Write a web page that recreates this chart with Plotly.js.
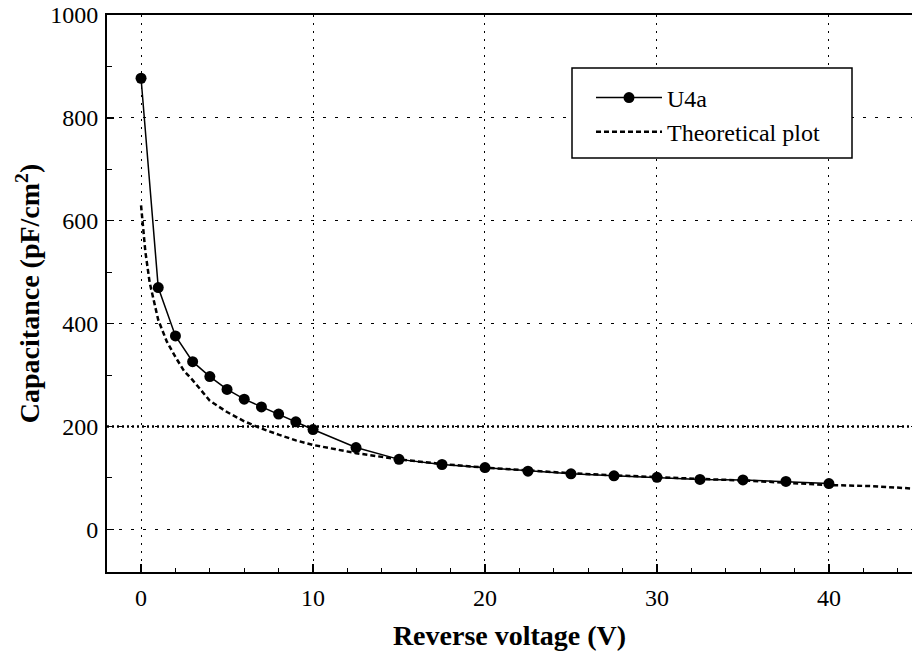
<!DOCTYPE html>
<html>
<head>
<meta charset="utf-8">
<script src="https://cdn.plot.ly/plotly-3.0.1.min.js"></script>
<style>html,body{margin:0;padding:0;background:#fff;}#chart{width:912px;height:659px;}</style>
</head>
<body>
<div id="chart"></div>
<script>
// Measured series U4a
const voltageU4a = [0, 1, 2, 3, 4, 5, 6, 7, 8, 9, 10, 12.5, 15, 17.5, 20, 22.5, 25, 27.5, 30, 32.5, 35, 37.5, 40];
const capU4a = [877, 470, 376, 326, 297, 272, 253, 238, 224, 209, 194, 159, 136, 126, 120, 113, 108, 104, 101, 97, 96, 93, 89];

// Theoretical curve
const voltageTheory = [0, 0.25, 0.5, 0.75, 1, 1.5, 2, 2.5, 3, 4, 5, 6, 7, 8, 9, 10, 12.5, 15, 17.5, 20, 22.5, 25, 27.5, 30, 32.5, 35, 37.5, 40, 42.5, 45];
const capTheory = [630, 540, 480, 440, 407, 365, 335, 308, 290, 250, 228, 210, 196, 184, 173, 164, 148, 136, 127, 120, 114, 109, 105, 101, 98, 95, 91, 86, 84, 79];

const seriesNames = ['U4a', 'Theoretical plot'];
const xTitle = 'Reverse voltage (V)';
const yTitle = 'Capacitance (pF/cm<sup>2</sup>)';
const xTicks = [0, 10, 20, 30, 40];
const yTicks = [0, 200, 400, 600, 800, 1000];
const refLevel = 200;

const serif = "'Liberation Serif', 'Times New Roman', serif";

const traces = [
  {
    x: voltageU4a, y: capU4a, name: seriesNames[0],
    type: 'scatter', mode: 'lines+markers',
    line: {color: '#000', width: 1.5},
    marker: {color: '#000', size: 11, symbol: 'circle'}
  },
  {
    x: voltageTheory, y: capTheory, name: seriesNames[1],
    type: 'scatter', mode: 'lines',
    line: {color: '#000', width: 2.5, dash: '5px,3px'}
  }
];

const layout = {
  width: 912, height: 659,
  margin: {l: 107, r: 0, t: 15, b: 87},
  paper_bgcolor: '#fff', plot_bgcolor: '#fff',
  showlegend: true,
  font: {family: serif, color: '#000', size: 24},
  xaxis: {
    range: [-1.98, 44.83],
    tickmode: 'array', tickvals: xTicks, ticktext: xTicks.map(String),
    ticks: 'inside', ticklen: 8, tickwidth: 1.5, tickcolor: '#000',
    minor: {dtick: 2, tick0: 0, ticks: 'inside', ticklen: 4, tickwidth: 1, tickcolor: '#000', showgrid: false},
    showline: true, linewidth: 2, linecolor: '#000', mirror: true,
    showgrid: true, gridcolor: '#000', gridwidth: 1, griddash: '2px,6px',
    zeroline: false,
    ticklabelstandoff: 3,
    tickfont: {family: serif, size: 24, color: '#000'},
    title: {text: '<b>' + xTitle + '</b>', font: {family: serif, size: 28, color: '#000'}, standoff: 16}
  },
  yaxis: {
    range: [-83, 1000],
    tickmode: 'array', tickvals: yTicks, ticktext: yTicks.map(String),
    ticks: 'inside', ticklen: 7, tickwidth: 1.5, tickcolor: '#000',
    minor: {dtick: 100, tick0: 0, ticks: 'inside', ticklen: 5, tickwidth: 1, tickcolor: '#000', showgrid: false},
    showline: true, linewidth: 2, linecolor: '#000', mirror: false,
    showgrid: true, gridcolor: '#000', gridwidth: 1, griddash: '3px,9px',
    zeroline: false,
    ticklabelstandoff: 2,
    tickfont: {family: serif, size: 24, color: '#000'},
    title: {text: '<b>' + yTitle + '</b>', font: {family: serif, size: 28, color: '#000'}, standoff: 2}
  },
  shapes: [
    {type: 'line', xref: 'paper', x0: 0, x1: 1, yref: 'y', y0: refLevel, y1: refLevel,
     line: {color: '#000', width: 2.5, dash: '2px,3px'}, layer: 'below'},
    {type: 'rect', xref: 'paper', yref: 'paper',
     x0: (572 - 107) / 805, x1: (852 - 107) / 805,
     y0: (572 - 158) / 557, y1: (572 - 68) / 557,
     fillcolor: '#fff', line: {color: '#000', width: 1.5}, layer: 'above'}
  ],
  legend: {
    x: (591 - 107) / 805, y: (572 - 115) / 557, xanchor: 'left', yanchor: 'middle',
    bgcolor: 'rgba(0,0,0,0)', borderwidth: 0,
    font: {family: serif, size: 24, color: '#000'},
    itemwidth: 66, tracegroupgap: 0
  }
};

Plotly.newPlot('chart', traces, layout, {displayModeBar: false, staticPlot: true});
</script>
</body>
</html>
